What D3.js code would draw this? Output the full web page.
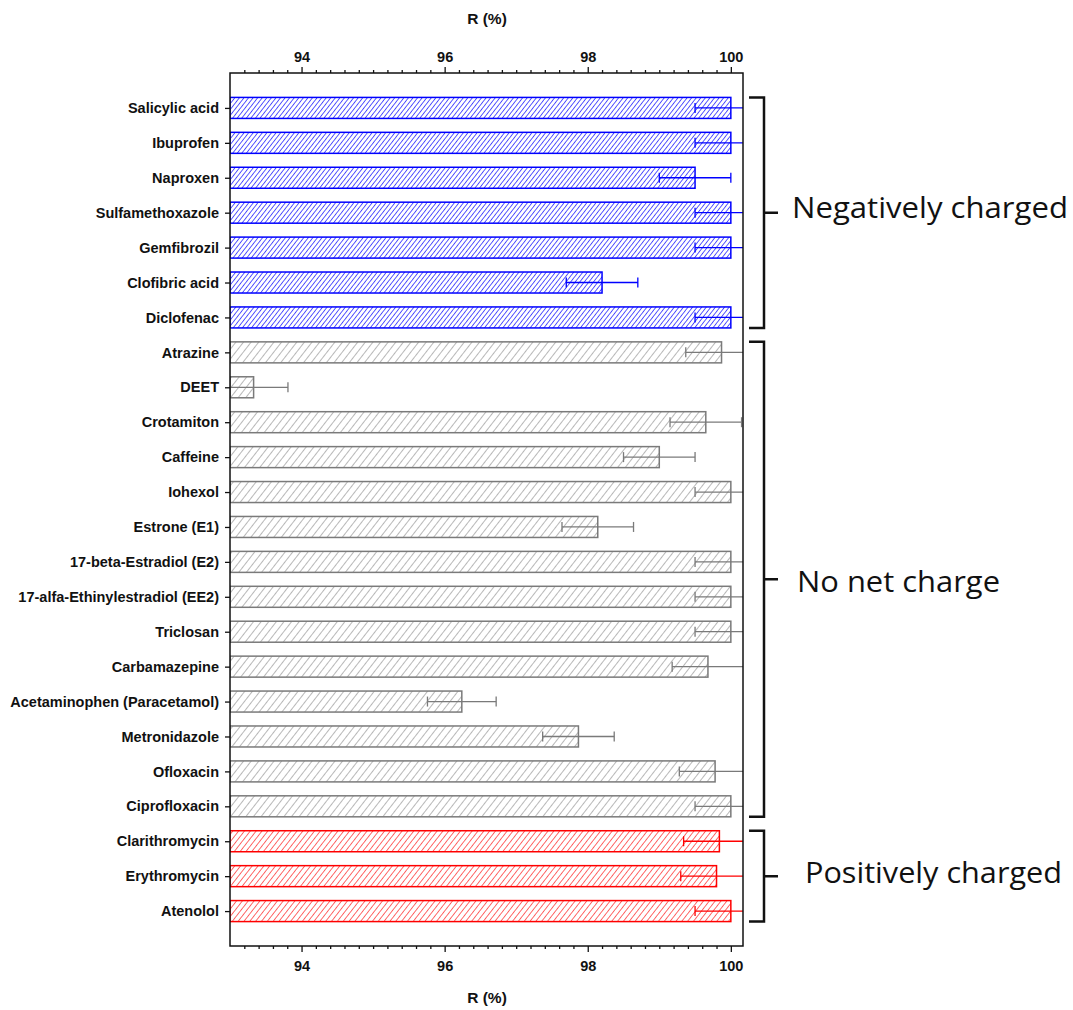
<!DOCTYPE html>
<html>
<head>
<meta charset="utf-8">
<script src="https://cdn.jsdelivr.net/npm/d3@7"></script>
<style>
  html, body { margin: 0; padding: 0; background: #fff; }
  svg { display: block; }
  .lbl { font-family: "Liberation Sans", Arial, sans-serif; font-weight: bold; font-size: 14.5px; fill: #111; }
  .ttl { font-family: "Liberation Sans", Arial, sans-serif; font-weight: bold; font-size: 15.5px; fill: #111; }
</style>
</head>
<body>
<svg id="chart" width="1073" height="1010"></svg>
<script>
// ---------------- data ----------------
const categories = [
  "Salicylic acid", "Ibuprofen", "Naproxen", "Sulfamethoxazole", "Gemfibrozil",
  "Clofibric acid", "Diclofenac", "Atrazine", "DEET", "Crotamiton", "Caffeine",
  "Iohexol", "Estrone (E1)", "17-beta-Estradiol (E2)", "17-alfa-Ethinylestradiol (EE2)",
  "Triclosan", "Carbamazepine", "Acetaminophen (Paracetamol)", "Metronidazole",
  "Ofloxacin", "Ciprofloxacin", "Clarithromycin", "Erythromycin", "Atenolol"
];
const rejection = [
  100, 100, 99.5, 100, 100, 98.2, 100, 99.87, 93.33, 99.65, 99.0,
  100, 98.14, 100, 100, 100, 99.68, 96.24, 97.87, 99.78, 100, 99.84, 99.8, 100
];
const errorValues = [
  0.5, 0.5, 0.5, 0.5, 0.5, 0.5, 0.5, 0.5, 0.48, 0.5, 0.5,
  0.5, 0.5, 0.5, 0.5, 0.5, 0.5, 0.48, 0.5, 0.5, 0.5, 0.5, 0.5, 0.5
];
const charge = [
  "neg", "neg", "neg", "neg", "neg", "neg", "neg",
  "none", "none", "none", "none", "none", "none", "none", "none", "none", "none", "none", "none", "none", "none",
  "pos", "pos", "pos"
];
const groupNames = ["neg", "none", "pos"];
const groupLabels = ["Negatively charged", "No net charge", "Positively charged"];
const majorTicks = [94, 96, 98, 100];
const axisTitle = "R (%)";

// ---------------- layout ----------------
const L = 230, R = 743, T = 73, B = 946;
const svg = d3.select("#chart");
const x = d3.scaleLinear().domain([93, 100.17]).range([L, R]);
const y = d3.scaleLinear().domain([0, categories.length + 1]).range([T, B]);
const barH = 21;
const colors = { neg: "#0000ff", none: "#7a7a7a", pos: "#ff0000" };
const hatchGap = { neg: 3.6, none: 6, pos: 4.6 };
const hatchColor = { neg: "#0000ff", none: "#7d7d7d", pos: "#ff1a1a" };

const defs = svg.append("defs");
groupNames.forEach(g => {
  const p = defs.append("pattern")
    .attr("id", "hatch-" + g)
    .attr("patternUnits", "userSpaceOnUse")
    .attr("width", hatchGap[g]).attr("height", hatchGap[g])
    .attr("patternTransform", "rotate(38)");
  p.append("rect").attr("width", hatchGap[g]).attr("height", hatchGap[g]).attr("fill", "#fff");
  p.append("line").attr("x1", 0).attr("y1", 0).attr("x2", 0).attr("y2", hatchGap[g])
    .attr("stroke", hatchColor[g]).attr("stroke-width", g === "none" ? 1.1 : 1.3);
});
defs.append("clipPath").attr("id", "plotclip")
  .append("rect").attr("x", L).attr("y", T).attr("width", R - L).attr("height", B - T);

const data = categories.map((c, i) => ({ name: c, v: rejection[i], e: errorValues[i], g: charge[i], pos: i + 1 }));

// bars
const plot = svg.append("g").attr("clip-path", "url(#plotclip)");
plot.selectAll("rect.bar").data(data).join("rect")
  .attr("class", "bar")
  .attr("x", x(93))
  .attr("y", d => y(d.pos) - barH / 2)
  .attr("width", d => x(d.v) - x(93))
  .attr("height", barH)
  .attr("fill", d => `url(#hatch-${d.g})`)
  .attr("stroke", d => colors[d.g])
  .attr("stroke-width", 1.5);

// error bars
const eb = plot.selectAll("g.err").data(data).join("g").attr("class", "err")
  .attr("stroke", d => colors[d.g]).attr("stroke-width", 1.3);
eb.append("line")
  .attr("x1", d => x(d.v - d.e)).attr("x2", d => x(d.v + d.e))
  .attr("y1", d => y(d.pos)).attr("y2", d => y(d.pos));
eb.append("line")
  .attr("x1", d => x(d.v - d.e)).attr("x2", d => x(d.v - d.e))
  .attr("y1", d => y(d.pos) - 5).attr("y2", d => y(d.pos) + 5);
eb.append("line")
  .attr("x1", d => x(d.v + d.e)).attr("x2", d => x(d.v + d.e))
  .attr("y1", d => y(d.pos) - 5).attr("y2", d => y(d.pos) + 5);

// frame
svg.append("rect").attr("x", L).attr("y", T).attr("width", R - L).attr("height", B - T)
  .attr("fill", "none").attr("stroke", "#111").attr("stroke-width", 1.5);

// axes
const minorTicks = d3.range(930, 1001, 2).map(v => v / 10).filter(v => !majorTicks.includes(v) && v > 93);
function styleAxis(g) {
  g.select(".domain").remove();
  g.selectAll(".tick line").attr("stroke", "#111").attr("stroke-width", 1.3);
  g.selectAll(".tick text").attr("class", "lbl").attr("fill", "#111");
}
svg.append("g").attr("transform", `translate(0,${T})`)
  .call(d3.axisTop(x).tickValues(majorTicks).tickSize(6).tickPadding(5).tickFormat(d3.format("d")))
  .call(styleAxis);
svg.append("g").attr("transform", `translate(0,${T})`)
  .call(d3.axisTop(x).tickValues(minorTicks).tickSize(3).tickFormat(""))
  .call(styleAxis);
svg.append("g").attr("transform", `translate(0,${B})`)
  .call(d3.axisBottom(x).tickValues(majorTicks).tickSize(6).tickPadding(9).tickFormat(d3.format("d")))
  .call(styleAxis);
svg.append("g").attr("transform", `translate(0,${B})`)
  .call(d3.axisBottom(x).tickValues(minorTicks).tickSize(3).tickFormat(""))
  .call(styleAxis);
svg.append("g").attr("transform", `translate(${L},0)`)
  .call(d3.axisLeft(y).tickValues(d3.range(1, categories.length + 1)).tickSize(5).tickPadding(6)
    .tickFormat(i => categories[i - 1]))
  .call(styleAxis);

svg.append("text").attr("class", "ttl").attr("x", 487).attr("y", 24)
  .attr("text-anchor", "middle").text(axisTitle);
svg.append("text").attr("class", "ttl").attr("x", 487).attr("y", 1003)
  .attr("text-anchor", "middle").text(axisTitle);

// brackets
const bx0 = 749, bx1 = 764, bx2 = 778;
const textX = [792, 797, 805];
const textW = [276, 203, 257];
const textDy = [5, 13, 7];
groupNames.forEach((g, k) => {
  const members = data.filter(d => d.g === g);
  const top = y(members[0].pos) - barH / 2;
  const bot = y(members[members.length - 1].pos) + barH / 2;
  const mid = (top + bot) / 2;
  svg.append("path")
    .attr("d", `M${bx0},${top} L${bx1},${top} L${bx1},${bot} L${bx0},${bot} M${bx1},${mid} L${bx2},${mid}`)
    .attr("fill", "none").attr("stroke", "#111").attr("stroke-width", 2.5);
  svg.append("text")
    .attr("x", textX[k]).attr("y", mid + textDy[k])
    .attr("font-family", "'Open Sans', 'Noto Sans', sans-serif")
    .attr("font-size", 30).attr("fill", "#111")
    .attr("textLength", textW[k]).attr("lengthAdjust", "spacingAndGlyphs")
    .text(groupLabels[k]);
});
</script>
</body>
</html>
